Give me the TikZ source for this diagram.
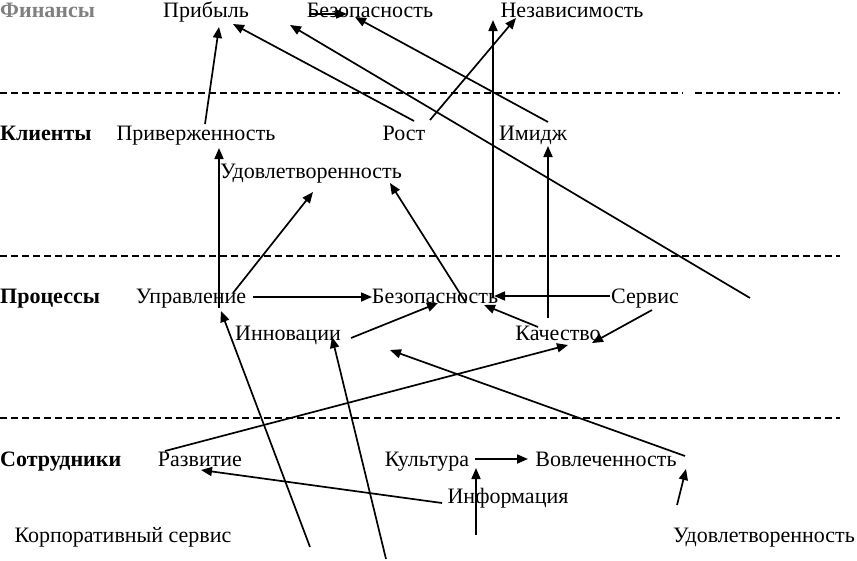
\documentclass[tikz,border=0pt]{standalone}
\usepackage{fontspec}
\setmainfont{Liberation Serif}
\usetikzlibrary{arrows.meta}
\tikzset{
  lbl/.style={anchor=base, inner sep=0pt, font=\fontsize{22}{26}\selectfont},
  head/.style={anchor=base west, inner sep=0pt, font=\fontsize{22}{26}\selectfont\bfseries},
  arr/.style={-{Triangle[length=11pt,width=9pt]}, line width=1.7pt},
  dline/.style={dash pattern=on 7pt off 4pt, line width=1.3pt}
}
\begin{document}
\begin{tikzpicture}[x=1pt,y=-1pt]
\useasboundingbox (0,0) rectangle (857,560);
% row headings
\node[head, text=black!50] (fin) at (0,17) {Финансы};
\node[head] (kli) at (0,140) {Клиенты};
\node[head] (pro) at (0,303) {Процессы};
\node[head] (sot) at (0,466) {Сотрудники};
% finance
\node[lbl] (prib) at (206,17) {Прибыль};
\node[lbl] (bez1) at (370,17) {Безопасность};
\node[lbl] (nez) at (572,17) {Независимость};
% clients
\node[lbl] (priv) at (196,140) {Приверженность};
\node[lbl] (rost) at (404,140) {Рост};
\node[lbl] (imi) at (533,140) {Имидж};
\node[lbl] (udk) at (311,178) {Удовлетворенность};
% processes
\node[lbl] (upr) at (191,303) {Управление};
\node[lbl] (bez2) at (435,303) {Безопасность};
\node[lbl] (serv) at (645,303) {Сервис};
\node[lbl] (inn) at (288,340) {Инновации};
\node[lbl] (kach) at (558,340) {Качество};
% staff
\node[lbl] (razv) at (200,466) {Развитие};
\node[lbl] (kult) at (427,466) {Культура};
\node[lbl] (vovl) at (606,466) {Вовлеченность};
\node[lbl] (inf) at (508,503) {Информация};
\node[lbl] (korp) at (123,542) {Корпоративный сервис};
\node[lbl] (uds) at (764,542) {Удовлетворенность};
% dashed separators
\coordinate (d1a) at (0,93); \coordinate (d1b) at (683,93);
\coordinate (d1c) at (695,93); \coordinate (d1d) at (840,93);
\coordinate (d2a) at (0,256); \coordinate (d2b) at (840,256);
\coordinate (d3a) at (0,418); \coordinate (d3b) at (840,418);
\draw[dline] (d1a) -- (d1b);
\draw[dline] (d1c) -- (d1d);
\draw[dline] (d2a) -- (d2b);
\draw[dline] (d3a) -- (d3b);
% connector end points
\coordinate (priv-out) at (205,124);  \coordinate (prib-in1) at (219,27);
\coordinate (rost-out1) at (414,121); \coordinate (prib-in2) at (233,24);
\coordinate (free-r) at (750,298);    \coordinate (prib-in3) at (290,25);
\coordinate (imi-out) at (548,122);   \coordinate (bez1-in) at (355,17);
\coordinate (rost-out2) at (430,120); \coordinate (nez-in1) at (516,18);
\coordinate (bez2-out1) at (493,298); \coordinate (nez-in2) at (493,20);
\coordinate (kach-out1) at (548,318); \coordinate (imi-in) at (548,146);
\coordinate (upr-out1) at (233,293);  \coordinate (udk-in1) at (313,192);
\coordinate (bez2-out2) at (466,303); \coordinate (udk-in2) at (390,183);
\coordinate (upr-out2) at (219,308);  \coordinate (priv-in) at (219,148);
\coordinate (free-b1) at (310,547);   \coordinate (upr-in) at (221,311);
\coordinate (free-b2) at (386,559);   \coordinate (inn-in) at (332,337);
\coordinate (inn-out) at (351,338);   \coordinate (bez2-in1) at (438,303);
\coordinate (upr-out3) at (253,297);  \coordinate (bez2-in2) at (372,297);
\coordinate (serv-out1) at (610,296); \coordinate (bez2-in3) at (494,296);
\coordinate (kach-out2) at (538,327); \coordinate (bez2-in4) at (484,305);
\coordinate (serv-out2) at (652,310); \coordinate (kach-in1) at (592,343);
\coordinate (razv-out) at (165,451);  \coordinate (kach-in2) at (568,345);
\coordinate (vovl-out) at (685,456);  \coordinate (inn-near) at (390,350);
\coordinate (inf-out) at (442,503);   \coordinate (razv-in) at (201,470);
\coordinate (kult-out) at (475,459);  \coordinate (vovl-in1) at (528,459);
\coordinate (free-b3) at (476,535);   \coordinate (kult-in) at (476,468);
\coordinate (uds-out) at (677,505);   \coordinate (vovl-in2) at (686,469);
\coordinate (bez1-a) at (309,14);     \coordinate (bez1-b) at (347,14);
% connectors
\draw[arr] (priv-out) -- (prib-in1);
\draw[arr] (rost-out1) -- (prib-in2);
\draw[arr] (free-r) -- (prib-in3);
\draw[arr] (imi-out) -- (bez1-in);
\draw[arr] (rost-out2) -- (nez-in1);
\draw[arr] (bez2-out1) -- (nez-in2);
\draw[arr] (kach-out1) -- (imi-in);
\draw[arr] (upr-out1) -- (udk-in1);
\draw[arr] (bez2-out2) -- (udk-in2);
\draw[arr] (upr-out2) -- (priv-in);
\draw[arr] (free-b1) -- (upr-in);
\draw[arr] (free-b2) -- (inn-in);
\draw[arr] (inn-out) -- (bez2-in1);
\draw[arr] (upr-out3) -- (bez2-in2);
\draw[arr] (serv-out1) -- (bez2-in3);
\draw[arr] (kach-out2) -- (bez2-in4);
\draw[arr] (serv-out2) -- (kach-in1);
\draw[arr] (razv-out) -- (kach-in2);
\draw[arr] (vovl-out) -- (inn-near);
\draw[arr] (inf-out) -- (razv-in);
\draw[arr] (kult-out) -- (vovl-in1);
\draw[arr] (free-b3) -- (kult-in);
\draw[arr] (uds-out) -- (vovl-in2);
\draw[arr] (bez1-a) -- (bez1-b);
\end{tikzpicture}
\end{document}
